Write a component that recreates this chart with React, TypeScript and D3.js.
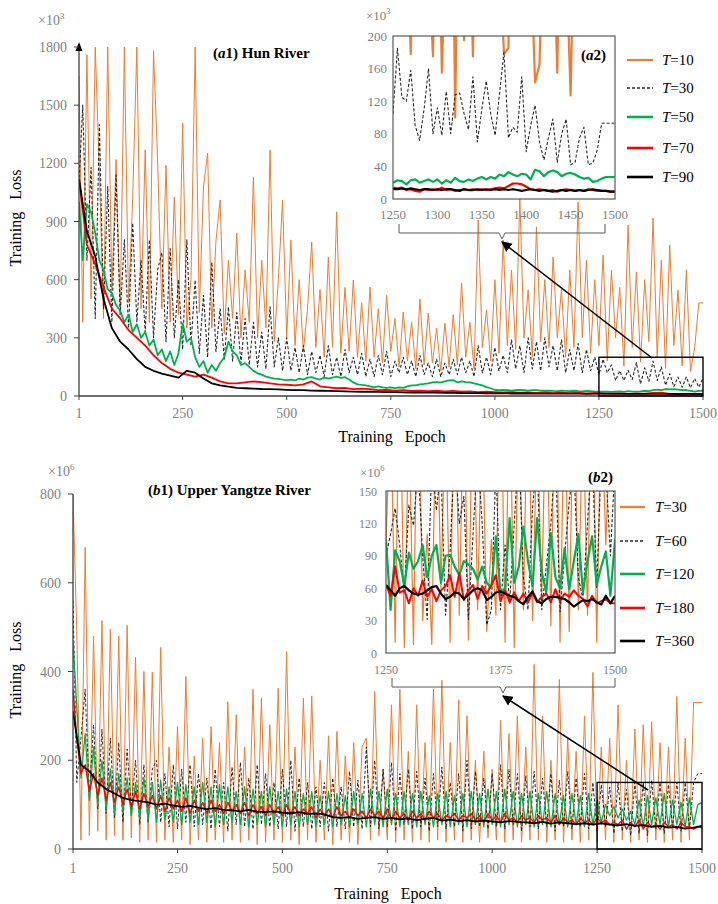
import React from "react";
import * as d3 from "d3";

// ===== (a) Hun River, training loss (x10^3) =====
// main panel: one reading every 10 epochs (1, 10, 20 ... 1500)
const hunT10 = [
  1650, 380, 1760, 500, 1800, 1160, 400, 1800, 550, 1220,
  420, 1800, 480, 1020, 1800, 450, 1270, 380, 1780, 1207,
  450, 1190, 380, 1026, 420, 1408, 350, 600, 1800, 430,
  1078, 1253, 350, 800, 1011, 320, 700, 400, 840, 300,
  650, 380, 1130, 300, 700, 350, 1269, 280, 600, 1011,
  300, 805, 260, 600, 230, 450, 794, 250, 550, 200,
  717, 250, 950, 220, 560, 230, 598, 200, 480, 180,
  562, 200, 450, 170, 520, 230, 400, 150, 433, 180,
  380, 140, 500, 160, 428, 170, 350, 130, 376, 150,
  420, 160, 583, 200, 380, 140, 908, 250, 443, 180,
  600, 220, 805, 260, 650, 240, 1021, 300, 547, 200,
  872, 280, 600, 250, 717, 300, 550, 200, 650, 250,
  1000, 300, 700, 220, 600, 260, 727, 180, 650, 300,
  560, 155, 882, 250, 640, 175, 600, 280, 918, 200,
  700, 143, 779, 260, 547, 155, 650, 127, 250, 480,
  480,
];
const hunT30 = [
  1100, 1500, 700, 1180, 400, 1400, 450, 1080, 380, 1140,
  420, 805, 350, 892, 380, 700, 330, 805, 300, 650,
  740, 280, 760, 300, 600, 240, 805, 260, 598, 220,
  520, 200, 690, 230, 450, 190, 459, 180, 430, 170,
  400, 160, 380, 150, 330, 140, 460, 150, 300, 130,
  300, 130, 250, 120, 260, 110, 230, 120, 210, 100,
  260, 110, 200, 100, 240, 120, 200, 110, 220, 100,
  190, 100, 210, 110, 230, 100, 180, 120, 200, 110,
  180, 100, 210, 110, 170, 100, 190, 100, 170, 110,
  190, 110, 200, 120, 180, 100, 260, 120, 200, 110,
  250, 130, 210, 120, 290, 140, 260, 120, 300, 140,
  280, 130, 300, 150, 260, 130, 290, 120, 240, 130,
  270, 120, 240, 130, 200, 110, 190, 120, 160, 80,
  130, 80, 133, 85, 172, 62, 145, 75, 180, 80,
  150, 55, 115, 48, 98, 45, 98, 42, 90, 45,
  93,
];
const hunT50 = [
  1000, 700, 990, 950, 840, 700, 650, 550, 530, 470,
  440, 380, 420, 330, 370, 300, 330, 260, 290, 210,
  240, 180, 230, 160, 220, 375, 280, 300, 200, 150,
  180, 120, 160, 130, 170, 200, 280, 230, 210, 160,
  170, 150, 130, 117, 110, 100, 95, 90, 88, 85,
  82, 85, 80, 90, 85, 95, 97, 90, 85, 95,
  90, 95, 100, 93, 97, 85, 70, 60, 57, 55,
  50, 45, 50, 45, 42, 45, 40, 45, 42, 50,
  55, 55, 60, 62, 65, 70, 72, 70, 75, 80,
  82, 70, 75, 72, 70, 65, 60, 55, 46, 40,
  31, 30, 32, 30, 28, 30, 32, 30, 28, 30,
  30, 28, 27, 28, 26, 25, 27, 26, 25, 27,
  25, 24, 26, 25, 23, 22, 23, 22, 21, 23,
  24, 21, 25, 23, 22, 24, 27, 25, 30, 33,
  30, 36, 34, 35, 33, 31, 30, 26, 22, 26,
  27,
];
// smoother curves: one reading every 20 epochs (1, 20, 40 ... 1500)
const hunT70 = [
  1120, 780, 680, 560, 450, 400, 340, 300, 260, 210,
  170, 140, 120, 110, 100, 110, 95, 75, 65, 65,
  70, 75, 72, 65, 60, 58, 55, 60, 75, 50,
  45, 40, 42, 35, 38, 35, 30, 32, 28, 30,
  26, 28, 25, 27, 24, 26, 22, 24, 20, 22,
  20, 18, 20, 17, 19, 16, 18, 15, 17, 15,
  16, 14, 15, 12, 11, 12, 11, 12, 12, 16,
  17, 11, 11, 11, 10, 9,
];
const hunT90 = [
  1120, 850, 720, 500, 350, 280, 240, 190, 150, 130,
  115, 105, 95, 130, 120, 90, 65, 55, 48, 42,
  40, 38, 36, 35, 34, 32, 30, 30, 28, 27,
  26, 25, 24, 23, 22, 22, 21, 20, 20, 19,
  18, 18, 17, 17, 16, 16, 15, 15, 15, 14,
  14, 14, 13, 13, 13, 12, 12, 12, 12, 12,
  12, 11, 12, 12, 12, 12, 11, 11, 11, 11,
  11, 11, 10, 11, 11, 9,
];
// inset (a2): one reading every 5 epochs, 1250 ... 1500
const hunZoomT10 = [
  600, 450, 700, 350, 178, 500, 800, 400, 300, 175,
  450, 155, 350, 600, 100, 500, 195, 400, 175, 500,
  700, 350, 600, 400, 300, 178, 185, 600, 400, 900,
  500, 300, 143, 165, 400, 700, 350, 155, 500, 300,
  127, 400, 800, 350, 600, 300, 500, 450, 480, 480,
  480,
];
const hunZoomT30 = [
  105, 185, 125, 120, 158, 90, 72, 110, 160, 80,
  112, 78, 132, 80, 128, 130, 105, 85, 150, 70,
  110, 145, 105, 78, 130, 180, 75, 88, 82, 150,
  58, 90, 115, 70, 48, 75, 98, 45, 80, 98,
  42, 45, 75, 88, 42, 44, 60, 93, 93, 93,
  93,
];
const hunZoomT50 = [
  20, 23, 22, 18, 23, 24, 20, 22, 24, 21,
  24, 19, 23, 20, 26, 22, 21, 24, 22, 25,
  27, 24, 27, 25, 30, 28, 33, 30, 28, 31,
  30, 24, 36, 34, 28, 33, 35, 33, 28, 31,
  32, 30, 27, 25, 26, 21, 22, 25, 27, 27,
  27,
];
const hunZoomT70 = [
  14, 13, 14, 11, 12, 10, 9, 12, 11, 12,
  11, 14, 11, 12, 10, 11, 12, 11, 12, 11,
  12, 11, 12, 13, 14, 13, 16, 19, 19, 18,
  15, 12, 11, 12, 11, 10, 11, 9, 11, 12,
  11, 10, 11, 10, 12, 11, 10, 10, 10, 9,
  9,
];
const hunZoomT90 = [
  12, 12, 13, 12, 13, 12, 11, 12, 12, 11,
  12, 11, 12, 12, 11, 10, 12, 11, 11, 12,
  11, 12, 11, 12, 11, 12, 11, 12, 11, 10,
  11, 12, 11, 10, 11, 10, 9, 10, 11, 10,
  11, 10, 11, 10, 11, 12, 11, 10, 10, 9,
  9,
];

// ===== (b) Upper Yangtze River, training loss (x10^6) =====
// every 10 epochs
const yzT30 = [
  800, 490, 20, 680, 30, 480, 40, 515, 20, 495,
  30, 480, 20, 504, 25, 432, 15, 400, 20, 398,
  15, 454, 20, 230, 15, 276, 20, 389, 10, 210,
  20, 250, 15, 276, 20, 240, 15, 332, 20, 303,
  15, 230, 20, 360, 10, 340, 15, 280, 20, 362,
  15, 445, 20, 230, 10, 340, 20, 345, 15, 200,
  20, 255, 10, 265, 20, 210, 15, 240, 10, 230,
  250, 20, 355, 30, 180, 20, 325, 15, 360, 20,
  220, 15, 325, 20, 240, 15, 360, 20, 380, 15,
  240, 20, 336, 15, 300, 20, 200, 15, 220, 25,
  180, 20, 290, 15, 260, 20, 300, 15, 230, 20,
  416, 20, 300, 15, 200, 20, 382, 15, 250, 20,
  220, 15, 300, 20, 398, 15, 230, 20, 250, 15,
  325, 20, 200, 15, 270, 20, 280, 15, 287, 20,
  240, 15, 230, 20, 344, 15, 250, 20, 330, 330,
  330,
];
const yzT60 = [
  560, 150, 250, 360, 120, 280, 90, 270, 80, 250,
  70, 240, 60, 225, 90, 200, 55, 190, 60, 180,
  200, 60, 170, 50, 190, 45, 180, 60, 190, 50,
  170, 55, 160, 45, 180, 50, 150, 40, 185, 55,
  195, 50, 160, 45, 190, 55, 170, 50, 150, 45,
  180, 50, 200, 40, 160, 50, 150, 45, 140, 50,
  150, 40, 160, 50, 140, 45, 175, 50, 155, 45,
  230, 50, 200, 45, 180, 50, 195, 40, 170, 55,
  180, 45, 175, 50, 160, 40, 170, 50, 185, 45,
  150, 50, 170, 40, 200, 45, 175, 50, 160, 45,
  170, 50, 190, 45, 180, 55, 170, 40, 165, 50,
  175, 45, 160, 50, 170, 40, 155, 50, 175, 45,
  160, 50, 170, 45, 150, 40, 145, 50, 140, 35,
  150, 40, 135, 30, 150, 35, 150, 30, 155, 45,
  150, 35, 145, 50, 150, 40, 150, 45, 150, 170,
  170,
];
const yzT120 = [
  470, 320, 160, 260, 110, 230, 100, 200, 90, 180,
  80, 170, 85, 160, 75, 150, 70, 160, 65, 150,
  60, 155, 65, 140, 60, 150, 55, 145, 60, 140,
  55, 150, 60, 140, 50, 145, 55, 140, 60, 130,
  55, 140, 50, 135, 55, 130, 50, 140, 55, 130,
  50, 135, 55, 130, 50, 125, 55, 130, 50, 120,
  55, 130, 50, 125, 55, 120, 50, 130, 55, 125,
  50, 135, 55, 130, 50, 135, 55, 125, 50, 130,
  55, 125, 50, 130, 55, 120, 50, 125, 55, 130,
  50, 120, 55, 125, 50, 130, 55, 125, 50, 135,
  55, 130, 50, 135, 55, 130, 50, 125, 55, 130,
  50, 125, 55, 130, 50, 125, 55, 120, 50, 125,
  55, 120, 50, 125, 55, 110, 60, 100, 75, 95,
  70, 90, 65, 85, 55, 110, 50, 120, 55, 115,
  55, 125, 50, 110, 55, 105, 50, 115, 55, 100,
  105,
];
const yzT180 = [
  360, 250, 170, 190, 130, 170, 120, 160, 110, 150,
  105, 140, 100, 135, 95, 130, 90, 125, 95, 120,
  90, 120, 85, 115, 90, 110, 85, 115, 80, 110,
  85, 105, 80, 110, 85, 100, 80, 105, 85, 100,
  80, 105, 75, 100, 80, 95, 75, 100, 80, 95,
  75, 100, 80, 95, 75, 90, 80, 95, 70, 90,
  75, 90, 70, 95, 75, 85, 70, 90, 75, 85,
  70, 90, 75, 85, 70, 90, 65, 85, 70, 80,
  65, 85, 70, 80, 65, 85, 70, 80, 65, 75,
  70, 80, 65, 75, 70, 80, 65, 75, 60, 80,
  65, 75, 60, 80, 65, 70, 60, 75, 65, 70,
  60, 75, 65, 70, 60, 75, 55, 70, 60, 65,
  55, 70, 60, 65, 55, 70, 60, 65, 55, 60,
  55, 65, 45, 60, 50, 65, 45, 60, 50, 55,
  45, 60, 50, 55, 45, 60, 50, 50, 45, 50,
  48,
];
// every 20 epochs
const yzT360 = [
  310, 190, 175, 150, 135, 125, 115, 110, 108, 105,
  100, 102, 98, 95, 97, 93, 90, 92, 88, 87,
  85, 88, 84, 83, 85, 82, 80, 83, 79, 80,
  78, 72, 70, 72, 68, 70, 72, 68, 70, 67,
  69, 65, 68, 70, 64, 66, 63, 65, 62, 64,
  62, 60, 63, 61, 60, 58, 61, 57, 60, 58,
  56, 58, 55, 58, 55, 53, 56, 52, 54, 50,
  52, 48, 50, 46, 48, 52,
];
// inset (b2): every 5 epochs, 1250 ... 1500
const yzZoomT30 = [
  100, 240, 10, 280, 5, 220, 8, 300, 30, 110,
  8, 260, 60, 230, 10, 290, 35, 250, 12, 270,
  40, 230, 20, 105, 35, 300, 10, 260, 5, 240,
  40, 280, 30, 220, 50, 260, 25, 300, 10, 250,
  20, 270, 40, 230, 35, 290, 10, 240, 100, 220,
  200,
];
const yzZoomT60 = [
  90, 110, 134, 100, 55, 137, 118, 175, 90, 31,
  180, 132, 170, 35, 95, 190, 120, 145, 31, 110,
  185, 120, 26, 40, 175, 40, 100, 46, 120, 190,
  70, 40, 135, 180, 40, 80, 120, 185, 38, 90,
  140, 175, 70, 50, 120, 190, 60, 180, 170, 90,
  175,
];
const yzZoomT120 = [
  105, 40, 95, 85, 62, 93, 78, 85, 100, 70,
  90, 100, 65, 90, 91, 80, 72, 85, 82, 78,
  68, 80, 65, 60, 108, 55, 60, 125, 65, 80,
  117, 85, 62, 125, 75, 56, 111, 70, 60, 97,
  59, 85, 110, 56, 85, 108, 63, 80, 94, 53,
  105,
];
const yzZoomT180 = [
  63, 53, 80, 56, 58, 46, 60, 53, 67, 52,
  59, 48, 58, 62, 72, 52, 74, 49, 58, 63,
  50, 62, 55, 63, 72, 48, 58, 47, 56, 48,
  55, 47, 56, 47, 52, 55, 47, 59, 48, 55,
  52, 58, 53, 50, 43, 53, 46, 48, 50, 46,
  46,
];
const yzZoomT360 = [
  63, 58, 53, 60, 62, 58, 55, 54, 55, 58,
  61, 62, 55, 50, 52, 56, 55, 50, 54, 58,
  60, 58, 49, 52, 56, 57, 55, 53, 52, 48,
  45, 52, 57, 48, 46, 50, 52, 52, 51, 50,
  47, 43, 46, 49, 48, 50, 47, 45, 53, 46,
  53,
];

// ticks and labels
const epochTicks = [1, 250, 500, 750, 1000, 1250, 1500];
const hunTicksY = [0, 300, 600, 900, 1200, 1500, 1800];
const hunZoomTicksY = [0, 40, 80, 120, 160, 200];
const hunZoomTicksX = [1250, 1300, 1350, 1400, 1450, 1500];
const yzTicksY = [0, 200, 400, 600, 800];
const yzZoomTicksY = [0, 30, 60, 90, 120, 150];
const yzZoomTicksX = [1250, 1375, 1500];
const hunLabels = ["10", "30", "50", "70", "90"];
const yzLabels = ["30", "60", "120", "180", "360"];

const FONT = "'Liberation Serif', 'Times New Roman', serif";
const GREY = "#7f7f7f";
const AXIS = "#404040";

const COLORS = ["#ED7D31", "#262626", "#00B050", "#FF0000", "#000000"];
const DASH = [undefined, "3,2", undefined, undefined, undefined];
const LEGEND_W = [2.2, 1.3, 2.6, 2.6, 2.6];

type Box = { l: number; r: number; t: number; b: number };
type Pt = [number, number];

const toPts = (vals: number[], start: number, step: number): Pt[] =>
  vals.map((v, i) => [Math.max(1, start + i * step), v]);

interface PanelProps {
  id: string;
  main: { vals: number[]; step: number }[];
  zoom: number[][];
  mainW: number[];
  zoomW: number[];
  labels: string[];
  plot: Box;
  yMax: number;
  yTicks: number[];
  inset: Box;
  insetYMax: number;
  insetYTicks: number[];
  insetXTicks: number[];
  insetFont: number;
  insetYLabelX: number;
  insetXLabelY: number;
  yLabelX: number;
  xLabelY: number;
  power: string;
  unitPos: Pt;
  insetUnitPos: Pt;
  letter: string;
  titleRest: string;
  titlePos: Pt;
  insetTitlePos: Pt;
  bracket: { x0: number; x1: number; y: number; tip: number };
  arrowFrom: Pt;
  legend: { x0: number; x1: number; tx: number; ys: number[] };
  yTitle: Pt;
  xTitle: Pt;
  axisArrow: boolean;
}

function Panel(p: PanelProps) {
  const x = d3.scaleLinear().domain([1, 1500]).range([p.plot.l, p.plot.r]);
  const y = d3.scaleLinear().domain([0, p.yMax]).range([p.plot.b, p.plot.t]);
  const xi = d3.scaleLinear().domain([1250, 1500]).range([p.inset.l, p.inset.r]);
  const yi = d3.scaleLinear().domain([0, p.insetYMax]).range([p.inset.b, p.inset.t]);
  const mainLine = d3.line<Pt>().x((d) => x(d[0])).y((d) => y(d[1]));
  const zoomLine = d3.line<Pt>().x((d) => xi(d[0])).y((d) => yi(d[1]));
  const br = p.bracket;

  return (
    <g fontFamily={FONT}>
      <defs>
        <clipPath id={`main-${p.id}`}>
          <rect x={p.plot.l} y={p.plot.t} width={p.plot.r - p.plot.l + 1} height={p.plot.b - p.plot.t} />
        </clipPath>
        <clipPath id={`zoom-${p.id}`}>
          <rect x={p.inset.l} y={p.inset.t} width={p.inset.r - p.inset.l} height={p.inset.b - p.inset.t} />
        </clipPath>
        <marker id={`arr-${p.id}`} viewBox="0 0 10 10" refX="9" refY="5" markerWidth="7" markerHeight="7" orient="auto">
          <path d="M0,0 L10,5 L0,10 z" fill="#000" />
        </marker>
      </defs>

      {/* main curves */}
      <g clipPath={`url(#main-${p.id})`} fill="none" strokeLinejoin="round">
        {p.main.map((s, i) => (
          <path key={i} d={mainLine(toPts(s.vals, 0, s.step)) || ""} stroke={COLORS[i]}
            strokeWidth={p.mainW[i]} strokeDasharray={DASH[i]} />
        ))}
      </g>

      {/* main axes */}
      <line x1={p.plot.l} x2={p.plot.l} y1={p.plot.b} y2={p.plot.t - (p.axisArrow ? 3 : 0)} stroke={AXIS} strokeWidth={1.3} />
      {p.axisArrow && (
        <path d={`M${p.plot.l - 3.5},${p.plot.t + 4} L${p.plot.l},${p.plot.t - 5} L${p.plot.l + 3.5},${p.plot.t + 4} z`} fill="#000" />
      )}
      <line x1={p.plot.l} x2={p.plot.r} y1={p.plot.b} y2={p.plot.b} stroke={AXIS} strokeWidth={1.3} />
      {p.yTicks.map((t) => (
        <g key={t}>
          <line x1={p.plot.l - 5} x2={p.plot.l} y1={y(t)} y2={y(t)} stroke={AXIS} />
          <text x={p.yLabelX} y={y(t) + 5} textAnchor="end" fontSize={14} fill={GREY}>{t}</text>
        </g>
      ))}
      {epochTicks.map((t) => (
        <g key={t}>
          <line x1={x(t)} x2={x(t)} y1={p.plot.b} y2={p.plot.b + 4} stroke={AXIS} />
          <text x={x(t)} y={p.xLabelY} textAnchor="middle" fontSize={14} fill={GREY}>{t}</text>
        </g>
      ))}
      <text x={p.unitPos[0]} y={p.unitPos[1]} fontSize={14} fill={GREY}>
        ×10<tspan dy={-6} fontSize={9}>{p.power}</tspan>
      </text>
      <text transform={`translate(${p.yTitle[0]},${p.yTitle[1]}) rotate(-90)`} textAnchor="middle" fontSize={16}
        style={{ whiteSpace: "pre" }}>{"Training   Loss"}</text>
      <text x={p.xTitle[0]} y={p.xTitle[1]} textAnchor="middle" fontSize={16} style={{ whiteSpace: "pre" }}>
        {"Training   Epoch"}
      </text>
      <text x={p.titlePos[0]} y={p.titlePos[1]} fontSize={15} fontWeight="bold">
        (<tspan fontStyle="italic">{p.letter}</tspan>1){p.titleRest}
      </text>

      {/* zoomed window in the main panel, arrow and bracket */}
      <rect x={x(1250)} y={y(p.insetYMax)} width={x(1500) - x(1250)} height={y(0) - y(p.insetYMax)}
        fill="none" stroke="#000" strokeWidth={1.4} />
      <line x1={p.arrowFrom[0]} y1={p.arrowFrom[1]} x2={br.tip} y2={br.y + 9} stroke="#000" strokeWidth={1.5}
        markerEnd={`url(#arr-${p.id})`} />
      <path d={`M${br.x0},${br.y - 9} V${br.y} H${br.tip - 3} L${br.tip},${br.y + 6} L${br.tip + 3},${br.y} H${br.x1} V${br.y - 9}`}
        fill="none" stroke="#595959" strokeWidth={1} />

      {/* inset */}
      <rect x={p.inset.l} y={p.inset.t} width={p.inset.r - p.inset.l} height={p.inset.b - p.inset.t} fill="#fff" />
      <g clipPath={`url(#zoom-${p.id})`} fill="none" strokeLinejoin="round">
        {p.zoom.map((vals, i) => (
          <path key={i} d={zoomLine(toPts(vals, 1250, 5)) || ""} stroke={COLORS[i]}
            strokeWidth={p.zoomW[i]} strokeDasharray={DASH[i]} />
        ))}
      </g>
      <rect x={p.inset.l} y={p.inset.t} width={p.inset.r - p.inset.l} height={p.inset.b - p.inset.t}
        fill="none" stroke="#595959" strokeWidth={1.2} />
      {p.insetYTicks.map((t) => (
        <text key={t} x={p.insetYLabelX} y={yi(t) + 4.5} textAnchor="end" fontSize={p.insetFont} fill={GREY}>{t}</text>
      ))}
      {p.insetXTicks.map((t) => (
        <text key={t} x={xi(t)} y={p.insetXLabelY} textAnchor="middle" fontSize={p.insetFont} fill={GREY}>{t}</text>
      ))}
      <text x={p.insetUnitPos[0]} y={p.insetUnitPos[1]} fontSize={13} fill={GREY}>
        ×10<tspan dy={-6} fontSize={8.5}>{p.power}</tspan>
      </text>
      <text x={p.insetTitlePos[0]} y={p.insetTitlePos[1]} fontSize={15} fontWeight="bold" textAnchor="end">
        (<tspan fontStyle="italic">{p.letter}</tspan>2)
      </text>

      {/* legend */}
      {p.labels.map((lab, i) => (
        <g key={lab}>
          <line x1={p.legend.x0} x2={p.legend.x1} y1={p.legend.ys[i]} y2={p.legend.ys[i]} stroke={COLORS[i]}
            strokeWidth={LEGEND_W[i]} strokeDasharray={DASH[i]} />
          <text x={p.legend.tx} y={p.legend.ys[i] + 5} fontSize={15}>
            <tspan fontStyle="italic">T</tspan>={lab}
          </text>
        </g>
      ))}
    </g>
  );
}

export default function App() {
  return (
    <svg width={718} height={904} style={{ position: "absolute", left: 0, top: 0, background: "#fff" }}>
      <Panel
        id="a"
        main={[
          { vals: hunT10, step: 10 },
          { vals: hunT30, step: 10 },
          { vals: hunT50, step: 10 },
          { vals: hunT70, step: 20 },
          { vals: hunT90, step: 20 },
        ]}
        zoom={[hunZoomT10, hunZoomT30, hunZoomT50, hunZoomT70, hunZoomT90]}
        mainW={[1, 1.1, 1.8, 1.8, 1.8]}
        zoomW={[2.2, 1.1, 2.2, 2.2, 2.2]}
        labels={hunLabels}
        plot={{ l: 79, r: 703, t: 47, b: 396 }}
        yMax={1800}
        yTicks={hunTicksY}
        inset={{ l: 393, r: 615, t: 36, b: 199 }}
        insetYMax={200}
        insetYTicks={hunZoomTicksY}
        insetXTicks={hunZoomTicksX}
        insetFont={13}
        insetYLabelX={387}
        insetXLabelY={219}
        yLabelX={67}
        xLabelY={418}
        power="3"
        unitPos={[38, 25]}
        insetUnitPos={[366, 20]}
        letter="a"
        titleRest=" Hun River"
        titlePos={[213, 58]}
        insetTitlePos={[606, 60]}
        bracket={{ x0: 399, x1: 605, y: 233, tip: 502 }}
        arrowFrom={[652, 358]}
        legend={{ x0: 627, x1: 653, tx: 662, ys: [60, 88, 117, 148, 177] }}
        yTitle={[21, 218]}
        xTitle={[392, 442]}
        axisArrow={true}
      />
      <Panel
        id="b"
        main={[
          { vals: yzT30, step: 10 },
          { vals: yzT60, step: 10 },
          { vals: yzT120, step: 10 },
          { vals: yzT180, step: 10 },
          { vals: yzT360, step: 20 },
        ]}
        zoom={[yzZoomT30, yzZoomT60, yzZoomT120, yzZoomT180, yzZoomT360]}
        mainW={[1, 1, 1.3, 1.4, 1.8]}
        zoomW={[1.2, 1.1, 2.2, 2, 2.2]}
        labels={yzLabels}
        plot={{ l: 73, r: 702, t: 494, b: 849 }}
        yMax={800}
        yTicks={yzTicksY}
        inset={{ l: 386, r: 615, t: 491, b: 653 }}
        insetYMax={150}
        insetYTicks={yzZoomTicksY}
        insetXTicks={yzZoomTicksX}
        insetFont={12}
        insetYLabelX={377}
        insetXLabelY={674}
        yLabelX={61}
        xLabelY={873}
        power="6"
        unitPos={[48, 476]}
        insetUnitPos={[360, 477]}
        letter="b"
        titleRest=" Upper Yangtze River"
        titlePos={[148, 495]}
        insetTitlePos={[613, 482]}
        bracket={{ x0: 392, x1: 615, y: 687, tip: 503 }}
        arrowFrom={[648, 790]}
        legend={{ x0: 620, x1: 645, tx: 655, ys: [507, 541, 574, 608, 641] }}
        yTitle={[21, 670]}
        xTitle={[388, 899]}
        axisArrow={false}
      />
    </svg>
  );
}
